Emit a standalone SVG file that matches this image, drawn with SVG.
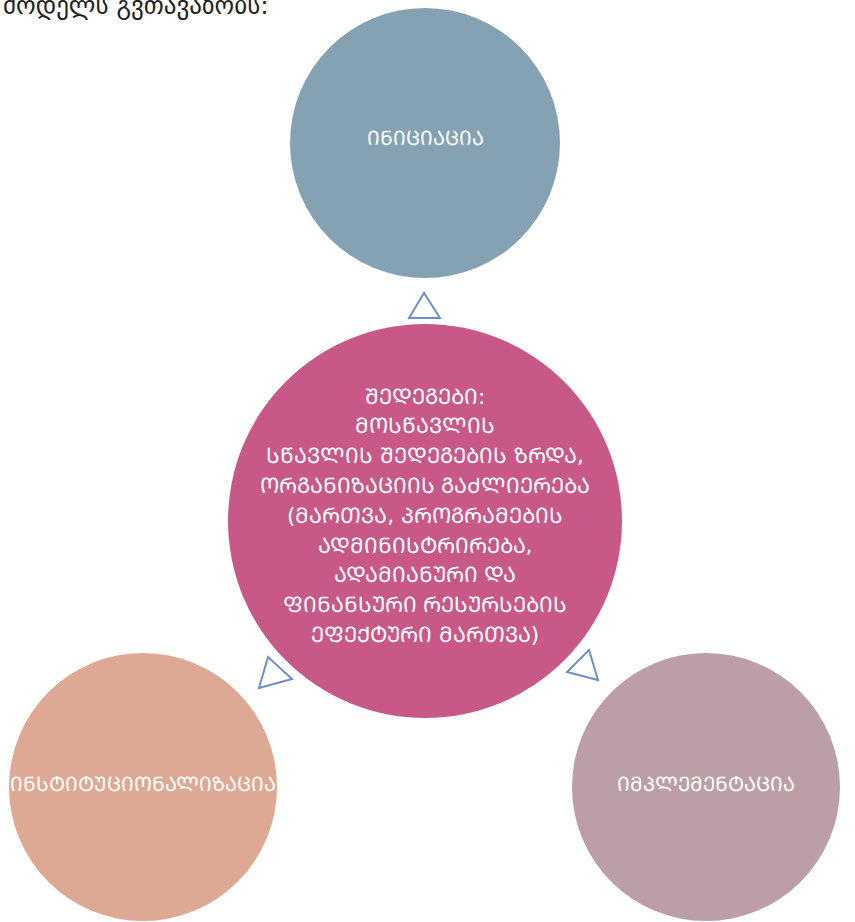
<svg xmlns="http://www.w3.org/2000/svg" width="855" height="922" viewBox="0 0 855 922">
<style>
.lbl{font-family:"DejaVu Sans",sans-serif;font-size:20px;fill:#ffffff;text-anchor:middle}
.ctr{font-size:21.5px}
.top{font-family:"DejaVu Sans",sans-serif;font-size:25px;fill:#222222}
.tri{fill:#ffffff;stroke:#6F8FC4;stroke-width:2;stroke-linejoin:miter}
</style>
<rect width="855" height="922" fill="#ffffff"/>
<text class="top" x="3" y="14">მოდელს გვთავაზობს:</text>
<g id="connectors">
<polygon class="tri" points="424,293 409,318 440,318"/>
<polygon class="tri" points="268,657 292,679 259,688"/>
<polygon class="tri" points="589,650 567,672 598,680"/>
</g>
<g id="node-initiation">
<circle cx="425" cy="143" r="135" fill="#84A2B2"/>
<text class="lbl" x="425" y="145">&#x1C98;&#x1C9C;&#x1C98;&#x1CAA;&#x1C98;&#x1C90;&#x1CAA;&#x1C98;&#x1C90;</text>
</g>
<g id="node-results">
<circle cx="425" cy="521" r="197" fill="#C85887"/>
<text class="lbl ctr" x="425" y="404">&#x1CA8;&#x1C94;&#x1C93;&#x1C94;&#x1C92;&#x1C94;&#x1C91;&#x1C98;:</text>
<text class="lbl ctr" x="425" y="433">&#x1C9B;&#x1C9D;&#x1CA1;&#x1CAC;&#x1C90;&#x1C95;&#x1C9A;&#x1C98;&#x1CA1;</text>
<text class="lbl ctr" x="425" y="463">&#x1CA1;&#x1CAC;&#x1C90;&#x1C95;&#x1C9A;&#x1C98;&#x1CA1; &#x1CA8;&#x1C94;&#x1C93;&#x1C94;&#x1C92;&#x1C94;&#x1C91;&#x1C98;&#x1CA1; &#x1C96;&#x1CA0;&#x1C93;&#x1C90;,</text>
<text class="lbl ctr" x="425" y="493">&#x1C9D;&#x1CA0;&#x1C92;&#x1C90;&#x1C9C;&#x1C98;&#x1C96;&#x1C90;&#x1CAA;&#x1C98;&#x1C98;&#x1CA1; &#x1C92;&#x1C90;&#x1CAB;&#x1C9A;&#x1C98;&#x1C94;&#x1CA0;&#x1C94;&#x1C91;&#x1C90;</text>
<text class="lbl ctr" x="425" y="523">(&#x1C9B;&#x1C90;&#x1CA0;&#x1C97;&#x1C95;&#x1C90;, &#x1C9E;&#x1CA0;&#x1C9D;&#x1C92;&#x1CA0;&#x1C90;&#x1C9B;&#x1C94;&#x1C91;&#x1C98;&#x1CA1;</text>
<text class="lbl ctr" x="425" y="553">&#x1C90;&#x1C93;&#x1C9B;&#x1C98;&#x1C9C;&#x1C98;&#x1CA1;&#x1CA2;&#x1CA0;&#x1C98;&#x1CA0;&#x1C94;&#x1C91;&#x1C90;,</text>
<text class="lbl ctr" x="425" y="582">&#x1C90;&#x1C93;&#x1C90;&#x1C9B;&#x1C98;&#x1C90;&#x1C9C;&#x1CA3;&#x1CA0;&#x1C98; &#x1C93;&#x1C90;</text>
<text class="lbl ctr" x="425" y="612">&#x1CA4;&#x1C98;&#x1C9C;&#x1C90;&#x1C9C;&#x1CA1;&#x1CA3;&#x1CA0;&#x1C98; &#x1CA0;&#x1C94;&#x1CA1;&#x1CA3;&#x1CA0;&#x1CA1;&#x1C94;&#x1C91;&#x1C98;&#x1CA1;</text>
<text class="lbl ctr" x="425" y="642">&#x1C94;&#x1CA4;&#x1C94;&#x1CA5;&#x1CA2;&#x1CA3;&#x1CA0;&#x1C98; &#x1C9B;&#x1C90;&#x1CA0;&#x1C97;&#x1C95;&#x1C90;)</text>
</g>
<g id="node-institutionalization">
<circle cx="143" cy="787" r="134" fill="#DEA994"/>
<text class="lbl" x="143" y="791">&#x1C98;&#x1C9C;&#x1CA1;&#x1CA2;&#x1C98;&#x1CA2;&#x1CA3;&#x1CAA;&#x1C98;&#x1C9D;&#x1C9C;&#x1C90;&#x1C9A;&#x1C98;&#x1C96;&#x1C90;&#x1CAA;&#x1C98;&#x1C90;</text>
</g>
<g id="node-implementation">
<circle cx="706" cy="787" r="134" fill="#BC9EA6"/>
<text class="lbl" x="706" y="791">&#x1C98;&#x1C9B;&#x1C9E;&#x1C9A;&#x1C94;&#x1C9B;&#x1C94;&#x1C9C;&#x1CA2;&#x1C90;&#x1CAA;&#x1C98;&#x1C90;</text>
</g>
</svg>
